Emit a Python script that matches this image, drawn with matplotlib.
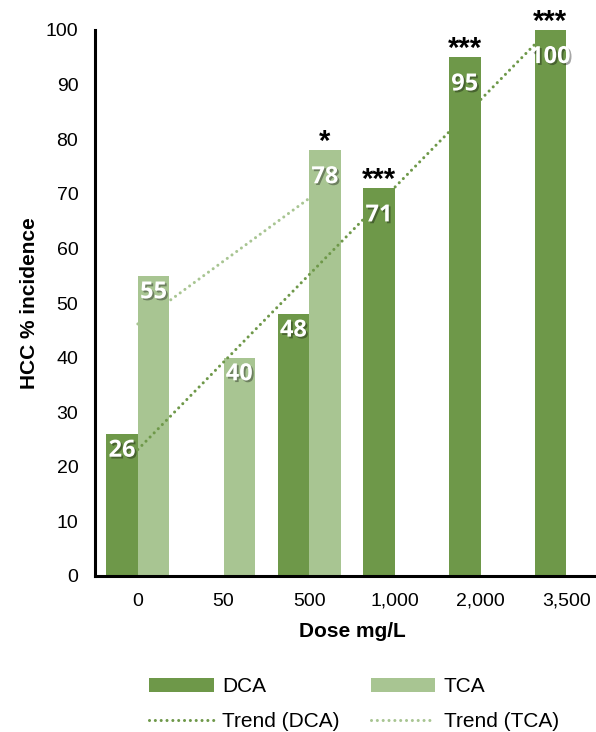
import numpy as np
import matplotlib
matplotlib.use("Agg")
import matplotlib.pyplot as plt
import matplotlib.patheffects as pe

categories = ["0", "50", "500", "1,000", "2,000", "3,500"]
dca = [26, None, 48, 71, 95, 100]
tca = [55, 40, 78, None, None, None]
dca_stars = ["", "", "", "***", "***", "***"]
tca_stars = ["", "", "*", "", "", ""]

DARK = "#6E9849"
LIGHT = "#A8C592"

plt.rcParams["font.family"] = ["Liberation Sans", "DejaVu Sans"]

fig = plt.figure(figsize=(5.96, 7.32), dpi=100)
ax = fig.add_axes([95 / 596, 1 - 576 / 732, 514 / 596, 546 / 732])

x = np.arange(len(categories))
w = 0.368
dv = np.array([np.nan if v is None else v for v in dca], dtype=float)
tv = np.array([np.nan if v is None else v for v in tca], dtype=float)

ax.bar(x - w / 2, np.nan_to_num(dv), w, color=DARK, label="DCA", zorder=2)
ax.bar(x + w / 2, np.nan_to_num(tv), w, color=LIGHT, label="TCA", zorder=2)


def trend(vals, full):
    """Excel-style linear trendline, x = 1..n, blanks skipped."""
    xs = np.arange(1, len(vals) + 1)
    m = ~np.isnan(vals)
    k, b = np.polyfit(xs[m], vals[m], 1)
    idx = np.where(m)[0]
    xr = np.arange(0, len(vals)) if full else np.arange(idx[0], idx[-1] + 1)
    return xr, k * (xr + 1) + b


dot = (0, (0.01, 1.9))
xr, yr = trend(dv, True)
ax.plot(xr, yr, color=DARK, lw=2.2, linestyle=dot, dash_capstyle="round",
        label="Trend (DCA)", zorder=3)
xr2, yr2 = trend(tv, False)
ax.plot(xr2, yr2, color=LIGHT, lw=2.2, linestyle=dot, dash_capstyle="round",
        label="Trend (TCA)", zorder=3)

shadow = [pe.withSimplePatchShadow(offset=(1.3, -1.3), shadow_rgbFace="black", alpha=0.35)]


def label_bars(xpos, vals, stars):
    for xi, v, s in zip(xpos, vals, stars):
        if np.isnan(v):
            continue
        off = -12 if v < 60 else -19.5
        ax.annotate(f"{int(v)}", (xi, v), xytext=(0, off), textcoords="offset points",
                    ha="center", va="center", color="white", fontsize=17,
                    fontweight="bold", family=["Open Sans", "DejaVu Sans"],
                    path_effects=shadow, zorder=5)
        if s:
            ax.annotate(s, (xi, v), xytext=(0, 0), textcoords="offset points",
                        ha="center", va="baseline", color="black", fontsize=21,
                        fontweight="bold", zorder=5, annotation_clip=False)


label_bars(x - w / 2, dv, dca_stars)
label_bars(x + w / 2, tv, tca_stars)

ax.set_xlim(-0.5, len(categories) - 0.5)
ax.set_ylim(0, 100)
ax.set_yticks(np.arange(0, 101, 10))
ax.set_xticks(x)
ax.set_xticklabels(categories)
ax.tick_params(axis="y", length=0, pad=12, labelsize=14)
ax.tick_params(axis="x", length=0, pad=12, labelsize=14)
for s in ["top", "right"]:
    ax.spines[s].set_visible(False)
for s in ["left", "bottom"]:
    ax.spines[s].set_linewidth(2.2)
    ax.spines[s].set_color("black")

ax.set_ylabel("HCC % incidence", fontsize=15, fontweight="bold", labelpad=5)
ax.set_xlabel("Dose mg/L", fontsize=15, fontweight="bold", labelpad=9)

h, l = ax.get_legend_handles_labels()
order = [l.index("DCA"), l.index("Trend (DCA)"), l.index("TCA"), l.index("Trend (TCA)")]
fig.legend([h[i] for i in order], [l[i] for i in order], ncol=2, loc="center",
           bbox_to_anchor=(354 / 596, 1 - 704 / 732), frameon=False, fontsize=15,
           handlelength=3.1, handletextpad=0.4, columnspacing=1.5, labelspacing=0.75)

fig.savefig("out.png", dpi=100)
